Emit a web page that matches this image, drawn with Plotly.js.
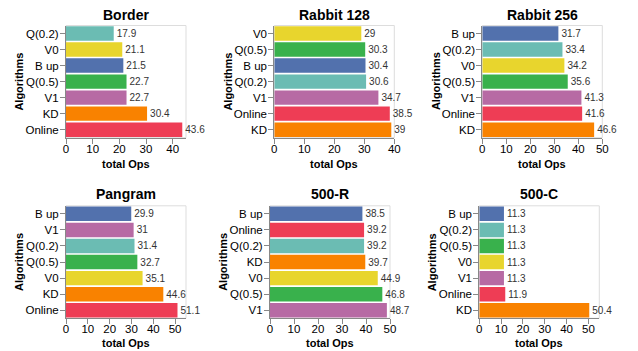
<!DOCTYPE html>
<html>
<head>
<meta charset="utf-8">
<script src="https://cdn.plot.ly/plotly-3.0.1.min.js"></script>
<style>html,body{margin:0;padding:0;background:#fff;}#chart{width:638px;height:351px;}</style>
</head>
<body>
<div id="chart"></div>
<script>
// ---- data ----
const panelTitles = ["Border", "Rabbit 128", "Rabbit 256", "Pangram", "500-R", "500-C"];
const borderAlgs   = ["Q(0.2)", "V0", "B up", "Q(0.5)", "V1", "KD", "Online"];
const borderOps    = [17.9, 21.1, 21.5, 22.7, 22.7, 30.4, 43.6];
const rabbit128Algs = ["V0", "Q(0.5)", "B up", "Q(0.2)", "V1", "Online", "KD"];
const rabbit128Ops  = [29, 30.3, 30.4, 30.6, 34.7, 38.5, 39];
const rabbit256Algs = ["B up", "Q(0.2)", "V0", "Q(0.5)", "V1", "Online", "KD"];
const rabbit256Ops  = [31.7, 33.4, 34.2, 35.6, 41.3, 41.6, 46.6];
const pangramAlgs  = ["B up", "V1", "Q(0.2)", "Q(0.5)", "V0", "KD", "Online"];
const pangramOps   = [29.9, 31, 31.4, 32.7, 35.1, 44.6, 51.1];
const r500Algs     = ["B up", "Online", "Q(0.2)", "KD", "V0", "Q(0.5)", "V1"];
const r500Ops      = [38.5, 39.2, 39.2, 39.7, 44.9, 46.8, 48.7];
const c500Algs     = ["B up", "Q(0.2)", "Q(0.5)", "V0", "V1", "Online", "KD"];
const c500Ops      = [11.3, 11.3, 11.3, 11.3, 11.3, 11.9, 50.4];
const xMax         = [45, 40, 50, 55, 50, 55];
const xTicks       = [0, 10, 20, 30, 40, 50];

// ---- style ----
const colorMap = {
  "B up": "#5271ad", "Q(0.2)": "#6bbcb3", "V0": "#e8d52d", "Q(0.5)": "#39b14c",
  "V1": "#b76aa4", "KD": "#f98200", "Online": "#ee3d55"
};
const W = 638, H = 351;
const FONT = "Liberation Sans, Arial, sans-serif";
// pixel boxes [left, top, width, height]
const boxes = [
  [66, 25.5, 120, 112.2], [274.3, 25.5, 120, 112.2], [482.3, 25.5, 120, 112.2],
  [66, 205.8, 120, 112.5], [270, 205.8, 120, 112.5], [479.3, 205.8, 120, 112.5]
];
const yTitleX = [19, 228, 435.5, 19, 222.8, 432.3];
const titleY = [15, 193.5];
const xTitleY = [163.5, 343.3];

const series = [
  [borderAlgs, borderOps], [rabbit128Algs, rabbit128Ops], [rabbit256Algs, rabbit256Ops],
  [pangramAlgs, pangramOps], [r500Algs, r500Ops], [c500Algs, c500Ops]
];

const traces = [];
const layout = {
  width: W, height: H, margin: {l: 0, r: 0, t: 0, b: 0},
  paper_bgcolor: "#fff", plot_bgcolor: "#fff",
  showlegend: false, bargap: 0.1,
  font: {family: FONT, color: "#000"},
  annotations: [], shapes: []
};

series.forEach((s, i) => {
  const n = i + 1;
  const sfx = n === 1 ? "" : String(n);
  const [l, t, w, h] = boxes[i];
  traces.push({
    type: "bar", orientation: "h",
    x: s[1], y: s[0],
    xaxis: "x" + sfx, yaxis: "y" + sfx,
    marker: {color: s[0].map(a => colorMap[a])},
    text: s[1].map(v => String(v)),
    textposition: "outside", cliponaxis: false, constraintext: "none",
    textfont: {size: 10, color: "#333", family: FONT},
    hoverinfo: "none"
  });
  layout["xaxis" + sfx] = {
    domain: [l / W, (l + w) / W], anchor: "y" + sfx,
    range: [0, xMax[i]], tickvals: xTicks.filter(v => v <= xMax[i]),
    ticks: "outside", ticklen: 5, tickcolor: "#888", tickwidth: 1,
    ticklabelstandoff: -5,
    showline: true, linecolor: "#888", linewidth: 1,
    showgrid: false, zeroline: false,
    tickfont: {size: 11.5, color: "#000", family: FONT}, fixedrange: true
  };
  layout["yaxis" + sfx] = {
    domain: [1 - (t + h) / H, 1 - t / H], anchor: "x" + sfx,
    type: "category", categoryorder: "array", categoryarray: s[0],
    range: [s[0].length - 0.5, -0.5],
    ticks: "outside", ticklen: 5, tickcolor: "#888", tickwidth: 1,
    ticklabelstandoff: -1,
    showline: true, linecolor: "#888", linewidth: 1,
    showgrid: false, zeroline: false,
    tickfont: {size: 11.5, color: "#000", family: FONT}, fixedrange: true
  };
  // view border
  layout.shapes.push({type: "rect", xref: "paper", yref: "paper",
    x0: l / W, x1: (l + w) / W, y0: 1 - (t + h) / H, y1: 1 - t / H,
    line: {color: "#ddd", width: 1}, layer: "below"});
  const row = i < 3 ? 0 : 1;
  layout.annotations.push({
    text: "<b>" + panelTitles[i] + "</b>", xref: "paper", yref: "paper",
    x: (l + w / 2) / W, y: 1 - titleY[row] / H, xanchor: "center", yanchor: "middle",
    showarrow: false, font: {size: 14, color: "#000", family: FONT}
  });
  layout.annotations.push({
    text: "<b>total Ops</b>", xref: "paper", yref: "paper",
    x: (l + w / 2) / W, y: 1 - xTitleY[row] / H, xanchor: "center", yanchor: "middle",
    showarrow: false, font: {size: 11, color: "#000", family: FONT}
  });
  layout.annotations.push({
    text: "<b>Algorithms</b>", xref: "paper", yref: "paper", textangle: -90,
    x: yTitleX[i] / W, y: 1 - (t + h / 2) / H, xanchor: "center", yanchor: "middle",
    showarrow: false, font: {size: 11, color: "#000", family: FONT}
  });
});

Plotly.newPlot("chart", traces, layout, {staticPlot: true, displayModeBar: false});
</script>
</body>
</html>
